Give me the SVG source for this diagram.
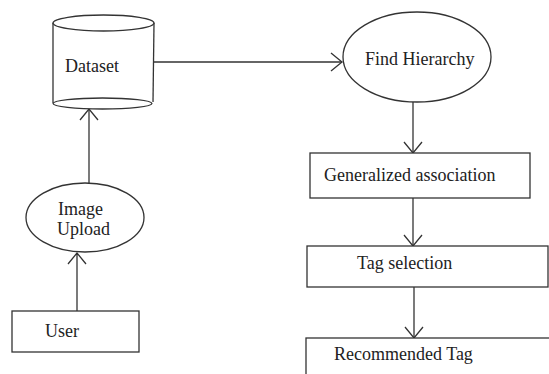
<svg xmlns="http://www.w3.org/2000/svg" width="549" height="374" viewBox="0 0 549 374">
  <style>
    .shape { fill: #ffffff; stroke: #333333; stroke-width: 1.3; }
    .edge { fill: none; stroke: #333333; stroke-width: 1.3; }
    .label { font-family: "Liberation Serif", "Times New Roman", serif; font-size: 18px; fill: #222222; }
  </style>
  <defs>
    <!-- open V arrowhead, wide spread -->
    <marker id="open" viewBox="0 0 13 20" refX="12" refY="10" markerWidth="13" markerHeight="20" markerUnits="userSpaceOnUse" orient="auto">
      <path d="M1,1 L12,10 L1,19" fill="none" stroke="#333333" stroke-width="1.3"/>
    </marker>
  </defs>
  <rect width="549" height="374" fill="#ffffff"/>

  <g id="connectors">
    <line class="edge" x1="154" y1="62" x2="342" y2="62" marker-end="url(#open)"/>
    <line class="edge" x1="413" y1="102" x2="413" y2="153" marker-end="url(#open)"/>
    <line class="edge" x1="413" y1="198" x2="413" y2="246" marker-end="url(#open)"/>
    <line class="edge" x1="414" y1="287" x2="414" y2="338" marker-end="url(#open)"/>
    <line class="edge" x1="89" y1="183" x2="89" y2="109" marker-end="url(#open)"/>
    <line class="edge" x1="77" y1="311" x2="77" y2="253" marker-end="url(#open)"/>
  </g>

  <g id="dataset">
    <rect x="53" y="23" width="101" height="80" fill="#ffffff"/>
    <line class="edge" x1="53" y1="23" x2="53" y2="103"/>
    <line class="edge" x1="154" y1="23" x2="153" y2="102"/>
    <ellipse class="shape" cx="102.5" cy="103.5" rx="49.5" ry="5.5"/>
    <ellipse class="shape" cx="103.5" cy="23" rx="50.5" ry="8"/>
    <text class="label" x="65" y="72">Dataset</text>
  </g>

  <g id="find-hierarchy">
    <ellipse class="shape" cx="417" cy="57" rx="74" ry="45"/>
    <text class="label" x="365" y="65">Find Hierarchy</text>
  </g>

  <g id="generalized-association">
    <rect class="shape" x="310" y="153" width="220" height="45"/>
    <text class="label" x="324" y="181">Generalized association</text>
  </g>

  <g id="tag-selection">
    <rect class="shape" x="307" y="246" width="241" height="41"/>
    <text class="label" x="357" y="269">Tag selection</text>
  </g>

  <g id="recommended-tag">
    <rect class="shape" x="306" y="338" width="260" height="50"/>
    <text class="label" x="334" y="360">Recommended Tag</text>
  </g>

  <g id="image-upload">
    <ellipse class="shape" cx="85" cy="217.5" rx="59" ry="34.5"/>
    <text class="label" x="58" y="215">Image</text>
    <text class="label" x="57" y="235">Upload</text>
  </g>

  <g id="user">
    <rect class="shape" x="12" y="311" width="127" height="41"/>
    <text class="label" x="45" y="337">User</text>
  </g>
</svg>
